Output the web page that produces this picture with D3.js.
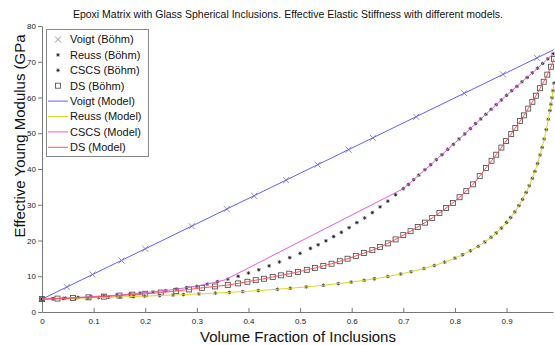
<!DOCTYPE html>
<html>
<head>
<meta charset="utf-8">
<script src="https://cdn.jsdelivr.net/npm/d3@7"></script>
<style>
  body { margin: 0; background: #fff; }
  svg { display: block; }
</style>
</head>
<body>
<div id="chart"></div>
<script>
// Voigt (Böhm) markers
const voigtBohmPhi = [0, 0.048, 0.098, 0.154, 0.2, 0.29, 0.358, 0.411, 0.473, 0.534, 0.594, 0.641, 0.725, 0.818, 0.893, 0.959];
const voigtBohmE   = [3.6, 7.0, 10.5, 14.4, 17.7, 24.0, 28.8, 32.5, 36.9, 41.2, 45.4, 48.7, 54.6, 61.2, 66.5, 71.1];

// Reuss (Böhm) markers
const reussBohmPhi = [0, 0.022, 0.041, 0.065, 0.089, 0.11, 0.129, 0.151, 0.177, 0.199, 0.228, 0.254, 0.274, 0.304, 0.336,
  0.363, 0.389, 0.419, 0.456, 0.481, 0.512, 0.545, 0.574, 0.599, 0.624, 0.644, 0.67, 0.695, 0.715, 0.74, 0.76, 0.78, 0.8,
  0.815, 0.83, 0.845, 0.858, 0.87, 0.88, 0.89, 0.9, 0.908, 0.916, 0.924, 0.931, 0.938, 0.944, 0.95, 0.955, 0.96, 0.965,
  0.969, 0.973, 0.977, 0.981, 0.984, 0.986, 0.988, 0.99, 0.992];
const reussBohmE = [3.6, 3.68, 3.75, 3.84, 3.93, 4.02, 4.1, 4.2, 4.33, 4.44, 4.6, 4.75, 4.87, 5.06, 5.29,
  5.5, 5.71, 5.99, 6.36, 6.64, 7.02, 7.48, 7.93, 8.37, 8.86, 9.29, 9.93, 10.62, 11.26, 12.16, 13.0, 13.95, 15.07,
  16.02, 17.11, 18.36, 19.59, 20.89, 22.11, 23.48, 25.03, 26.43, 28.0, 29.76, 31.5, 33.44, 35.31, 37.41, 39.35, 41.51, 43.92,
  46.06, 48.4, 51.02, 53.94, 56.34, 58.1, 59.9, 61.9, 64.0];

// CSCS (Böhm) markers
const cscsBohmPhi = [0, 0.02, 0.045, 0.07, 0.095, 0.12, 0.145, 0.17, 0.19, 0.215, 0.24, 0.26, 0.28, 0.3, 0.32, 0.34, 0.36,
  0.38, 0.4, 0.42, 0.44, 0.46, 0.48, 0.5, 0.52, 0.535, 0.55, 0.565, 0.58, 0.595, 0.61, 0.625, 0.64, 0.655, 0.67, 0.685,
  0.7, 0.71, 0.72, 0.73, 0.742, 0.753, 0.764, 0.775, 0.786, 0.797, 0.808, 0.819, 0.83, 0.84, 0.85, 0.86, 0.87, 0.88,
  0.89, 0.9, 0.91, 0.92, 0.93, 0.94, 0.95, 0.96, 0.97, 0.98, 0.99];
const cscsBohmE = [3.6, 3.7, 3.9, 4.1, 4.3, 4.5, 4.7, 5.0, 5.3, 5.6, 6.0, 6.4, 6.8, 7.2, 7.8, 8.5, 9.2,
  10.0, 10.9, 11.8, 12.9, 14.0, 15.2, 16.4, 17.8, 18.8, 19.9, 21.1, 22.3, 23.6, 25.0, 26.3, 27.8, 29.4, 31.0, 32.8,
  34.5, 35.7, 37.0, 38.3, 39.8, 41.2, 42.6, 44.0, 45.5, 46.9, 48.4, 49.8, 51.3, 52.7, 54.0, 55.3, 56.7, 58.0,
  59.3, 60.6, 61.9, 63.1, 64.4, 65.6, 66.9, 68.2, 69.5, 70.8, 72.2];

// DS (Böhm) markers
const dsBohmPhi = [0, 0.03, 0.06, 0.09, 0.12, 0.15, 0.175, 0.2, 0.23, 0.26, 0.285, 0.31, 0.335, 0.36, 0.38, 0.398, 0.414,
  0.43, 0.447, 0.463, 0.479, 0.496, 0.513, 0.529, 0.545, 0.561, 0.577, 0.592, 0.608, 0.624, 0.64, 0.655, 0.67, 0.685,
  0.7, 0.714, 0.728, 0.742, 0.756, 0.77, 0.783, 0.796, 0.809, 0.822, 0.835, 0.848, 0.86, 0.871, 0.88, 0.89, 0.899,
  0.909, 0.917, 0.926, 0.934, 0.942, 0.95, 0.957, 0.965, 0.972, 0.979, 0.986, 0.992];
const dsBohmE = [3.6, 3.75, 3.9, 4.1, 4.3, 4.6, 4.85, 5.1, 5.45, 5.85, 6.3, 6.75, 7.15, 7.55, 8.0, 8.45, 8.9,
  9.3, 9.8, 10.25, 10.7, 11.2, 11.8, 12.3, 12.9, 13.5, 14.2, 14.9, 15.7, 16.5, 17.3, 18.2, 19.2, 20.3,
  21.5, 22.6, 23.8, 25.0, 26.3, 27.7, 29.1, 30.5, 32.1, 33.8, 35.7, 38.0, 40.3, 42.3, 44.0, 46.0, 47.8,
  49.8, 51.5, 53.4, 55.0, 56.9, 58.8, 60.5, 62.6, 64.4, 66.4, 68.6, 70.8];

// Model curves
const voigtModelPhi = [0, 0.25, 0.5, 0.75, 0.992];
const voigtModelE   = [3.6, 21.2, 38.8, 56.4, 73.4];

const reussModelPhi = reussBohmPhi;
const reussModelE   = reussBohmE;

const cscsModelPhi = [0, 0.045, 0.095, 0.145, 0.19, 0.24, 0.28, 0.32, 0.355, 0.7, 0.75, 0.8, 0.85, 0.9, 0.95, 0.99];
const cscsModelE   = [3.6, 3.9, 4.3, 4.7, 5.3, 6.0, 6.8, 7.8, 9.0, 34.5, 40.8, 47.3, 54.0, 60.6, 66.9, 72.2];

const dsModelPhi = dsBohmPhi;
const dsModelE   = dsBohmE;

const xTicks = [0, 0.1, 0.2, 0.3, 0.4, 0.5, 0.6, 0.7, 0.8, 0.9];
const yTicks = [0, 10, 20, 30, 40, 50, 60, 70, 80];

const legendLabels = ["Voigt (Böhm)", "Reuss (Böhm)", "CSCS (Böhm)", "DS (Böhm)",
  "Voigt (Model)", "Reuss (Model)", "CSCS (Model)", "DS (Model)"];

const width = 555, height = 345;
const margin = { top: 26, right: 2, bottom: 33, left: 42 };

const svg = d3.select("#chart").append("svg")
  .attr("width", width)
  .attr("height", height)
  .style("font-family", "Arial, 'Liberation Sans', sans-serif");

const x = d3.scaleLinear().domain([0, 0.99]).range([margin.left, width - margin.right]);
const y = d3.scaleLinear().domain([0, 80]).range([height - margin.bottom, margin.top]);

// title
svg.append("text")
  .attr("x", 288)
  .attr("y", 18)
  .attr("text-anchor", "middle")
  .attr("font-size", "10.5px")
  .attr("fill", "#111")
  .text("Epoxi Matrix with Glass Spherical Inclusions. Effective Elastic Stiffness with different models.");

// axes
svg.append("g")
  .attr("transform", `translate(0,${height - margin.bottom})`)
  .call(d3.axisBottom(x).tickValues(xTicks).tickSizeInner(-4).tickSizeOuter(0).tickPadding(6)
    .tickFormat(d => d === 0 ? "0" : d3.format(".1f")(d)))
  .call(g => g.select(".domain").attr("stroke", "#777"))
  .call(g => g.selectAll("line").attr("stroke", "#777"))
  .call(g => g.selectAll("text").attr("font-size", "8px").attr("fill", "#222").attr("font-family", "Arial, sans-serif"));

svg.append("g")
  .attr("transform", `translate(${margin.left},0)`)
  .call(d3.axisLeft(y).tickValues(yTicks).tickSizeInner(4).tickSizeOuter(0).tickPadding(2))
  .call(g => g.select(".domain").attr("stroke", "#777"))
  .call(g => g.selectAll("line").attr("stroke", "#777"))
  .call(g => g.selectAll("text").attr("font-size", "8px").attr("fill", "#222").attr("font-family", "Arial, sans-serif"));

// axis titles
svg.append("text")
  .attr("x", 298)
  .attr("y", 342)
  .attr("text-anchor", "middle")
  .attr("font-size", "15px")
  .attr("fill", "#111")
  .text("Volume Fraction of Inclusions");

svg.append("text")
  .attr("transform", "translate(25,136) rotate(-90)")
  .attr("text-anchor", "middle")
  .attr("font-size", "15px")
  .attr("fill", "#111")
  .text("Effective Young Modulus (GPa");

// marker shapes
function drawX(g, cx, cy) {
  g.append("path").attr("d", `M${cx - 3},${cy - 3}L${cx + 3},${cy + 3}M${cx - 3},${cy + 3}L${cx + 3},${cy - 3}`)
    .attr("stroke", "#888").attr("stroke-width", 0.9).attr("fill", "none");
}
function drawStar(g, cx, cy) {
  g.append("path").attr("d", `M${cx - 1.8},${cy}L${cx + 1.8},${cy}M${cx},${cy - 1.8}L${cx},${cy + 1.8}M${cx - 1.3},${cy - 1.3}L${cx + 1.3},${cy + 1.3}M${cx - 1.3},${cy + 1.3}L${cx + 1.3},${cy - 1.3}`)
    .attr("stroke", "#222").attr("stroke-width", 0.8).attr("fill", "none");
}
function drawSquare(g, cx, cy) {
  g.append("rect").attr("x", cx - 2.5).attr("y", cy - 2.5).attr("width", 5).attr("height", 5)
    .attr("stroke", "#444").attr("stroke-width", 0.8).attr("fill", "none");
}

const markerGroup = svg.append("g");
voigtBohmPhi.forEach((p, i) => drawX(markerGroup, x(p), y(voigtBohmE[i])));
reussBohmPhi.forEach((p, i) => drawStar(markerGroup, x(p), y(reussBohmE[i])));
cscsBohmPhi.forEach((p, i) => drawStar(markerGroup, x(p), y(cscsBohmE[i])));
dsBohmPhi.forEach((p, i) => drawSquare(markerGroup, x(p), y(dsBohmE[i])));

// model lines
const modelSeries = [
  { phi: voigtModelPhi, e: voigtModelE, color: "#6060ff" },
  { phi: reussModelPhi, e: reussModelE, color: "#dada2a" },
  { phi: cscsModelPhi, e: cscsModelE, color: "#e060e0" },
  { phi: dsModelPhi, e: dsModelE, color: "#ff5050" }
];

const line = d3.line().x(d => x(d[0])).y(d => y(d[1]));

svg.append("g").selectAll("path")
  .data(modelSeries)
  .join("path")
  .attr("fill", "none")
  .attr("stroke", d => d.color)
  .attr("stroke-width", 1)
  .attr("d", d => line(d.phi.map((p, i) => [p, d.e[i]])));

// legend
const legend = svg.append("g");
legend.append("rect")
  .attr("x", 46.5).attr("y", 29.5).attr("width", 102).attr("height", 127)
  .attr("fill", "#fff").attr("stroke", "#888").attr("stroke-width", 1);

legendLabels.forEach((label, i) => {
  const ly = 39.5 + i * 15.4;
  if (i === 0) drawX(legend, 58, ly);
  else if (i === 1 || i === 2) drawStar(legend, 58, ly);
  else if (i === 3) drawSquare(legend, 58, ly);
  else {
    legend.append("line")
      .attr("x1", 48).attr("x2", 68).attr("y1", ly).attr("y2", ly)
      .attr("stroke", modelSeries[i - 4].color).attr("stroke-width", 1);
  }
  legend.append("text")
    .attr("x", 70).attr("y", ly)
    .attr("dy", "0.35em")
    .attr("font-size", "11px")
    .attr("fill", "#111")
    .text(label);
});
</script>
</body>
</html>
